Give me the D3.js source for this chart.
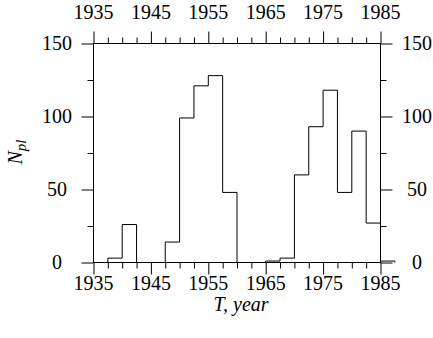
<!DOCTYPE html>
<html>
<head>
<meta charset="utf-8">
<script src="https://cdn.jsdelivr.net/npm/d3@7"></script>
</head>
<body style="margin:0;background:#fff">
<script>
// histogram bins, 2.5 year wide, starting at binStart
var binStart = [1935, 1937.5, 1940, 1942.5, 1945, 1947.5, 1950, 1952.5, 1955, 1957.5,
  1960, 1962.5, 1965, 1967.5, 1970, 1972.5, 1975, 1977.5, 1980, 1982.5, 1985]
var counts = [0, 3, 26, 0, 0, 14, 99, 121, 128, 48,
  0, 0, 1, 3, 60, 93, 118, 48, 90, 27, 1]
var binWidth = 2.5

var yearMajor = [1935, 1945, 1955, 1965, 1975, 1985]
var yearMinor = [1937.5, 1940, 1942.5, 1947.5, 1950, 1952.5, 1957.5, 1960, 1962.5,
  1967.5, 1970, 1972.5, 1977.5, 1980, 1982.5]
var nMajor = [0, 50, 100, 150]
var nMinor = [25, 75, 125]

var W = 433, H = 338
var FONT = 'Liberation Serif'
var fs = 20

var svg = d3.select('body').append('svg')
  .attr('width', W).attr('height', H)

var x = d3.scaleLinear().domain([1935, 1985]).range([93.5, 380.5])
var y = d3.scaleLinear().domain([0, 150]).range([262.5, 43.5])

var xLeft = x.range()[0], xRight = x.range()[1]
var yBottom = y.range()[0], yTop = y.range()[1]

// frame
svg.append('rect')
  .attr('x', xLeft).attr('y', yTop)
  .attr('width', xRight - xLeft).attr('height', yBottom - yTop)
  .attr('fill', 'none').attr('stroke', '#000').attr('stroke-width', 1)

// ticks, all pointing outward
function ticks(axis, vals, size, tx, ty){
  var g = svg.append('g').attr('transform', 'translate(' + tx + ',' + ty + ')')
    .call(axis.tickValues(vals).tickSize(size).tickFormat(''))
  g.select('.domain').remove()
  g.selectAll('line').attr('stroke', '#000').attr('stroke-width', 1)
}
ticks(d3.axisBottom(x), yearMajor, 12, 0, yBottom)
ticks(d3.axisBottom(x), yearMinor, 6, 0, yBottom)
ticks(d3.axisTop(x), yearMajor, 12, 0, yTop)
ticks(d3.axisTop(x), yearMinor, 6, 0, yTop)
ticks(d3.axisLeft(y), nMajor, 12, xLeft, 0)
ticks(d3.axisLeft(y), nMinor, 6, xLeft, 0)
ticks(d3.axisRight(y), nMajor, 12, xRight, 0)
ticks(d3.axisRight(y), nMinor, 6, xRight, 0)

// tick labels
function labels(vals, fx, fy){
  svg.append('g').selectAll('text').data(vals).enter().append('text')
    .attr('x', fx).attr('y', fy)
    .attr('text-anchor', 'middle')
    .attr('font-family', FONT).attr('font-size', fs)
    .text(function(d){ return d })
}
labels(yearMajor, function(d){ return x(d) }, 290)
labels(yearMajor, function(d){ return x(d) }, 19)
labels(nMajor, 57, function(d){ return y(d) + 6.5 })
labels(nMajor, 417, function(d){ return y(d) + 6.5 })

// histogram outline
var pts = [[binStart[0], 0]]
binStart.forEach(function(b, i){
  pts.push([b, counts[i]])
  pts.push([b + binWidth, counts[i]])
})
pts.push([binStart[binStart.length - 1] + binWidth, 0])
var line = d3.line()
  .x(function(d){ return x(d[0]) })
  .y(function(d){ return y(d[1]) })
svg.append('path')
  .attr('d', line(pts))
  .attr('fill', 'none').attr('stroke', '#000').attr('stroke-width', 1)

// axis titles
svg.append('text')
  .attr('x', 241).attr('y', 311)
  .attr('text-anchor', 'middle')
  .attr('font-family', FONT).attr('font-size', fs).attr('font-style', 'italic')
  .text('T, year')

var yt = svg.append('text')
  .attr('transform', 'translate(22,152) rotate(-90)')
  .attr('text-anchor', 'middle')
  .attr('font-family', FONT).attr('font-size', fs).attr('font-style', 'italic')
yt.append('tspan').text('N')
yt.append('tspan').attr('dy', 4).attr('font-size', 15).text('pl')
</script>
</body>
</html>
